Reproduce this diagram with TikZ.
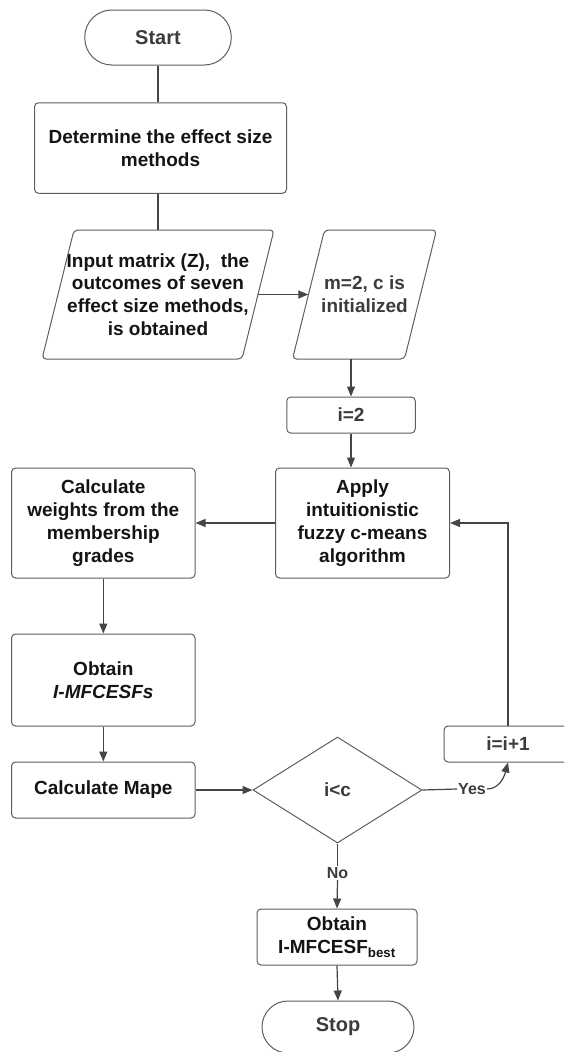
\documentclass[tikz,border=0pt]{standalone}
\usepackage{fontspec}
\setmainfont{Liberation Sans}
\usetikzlibrary{shapes.geometric,arrows.meta}
\definecolor{edge}{HTML}{5E5E5E}
\definecolor{conn}{HTML}{454545}
\definecolor{ink}{HTML}{141414}
\definecolor{soft}{HTML}{3C3C3C}
\begin{document}
\begin{tikzpicture}[x=1pt,y=-1pt,
  every node/.style={font=\fontsize{19}{22.8}\selectfont\bfseries, align=center, inner sep=0pt},
  box/.style={draw=edge, line width=1pt, rounded corners=4pt, text=ink},
  outline/.style={draw=edge, line width=1pt, rounded corners=4pt},
  line/.style={draw=conn, line width=1.2pt},
  arr/.style={line, -{Triangle[length=10pt,width=8pt]}},
  lbl/.style={text=soft, font=\fontsize{16}{19}\selectfont\bfseries, inner sep=1pt}
]
\useasboundingbox (0,0) rectangle (564,1052);
\clip (0,0) rectangle (564,1052);

% nodes
\node[box, rounded corners=27pt, minimum width=146.5pt, minimum height=55pt, text=soft,
      font=\fontsize{20}{24}\selectfont\bfseries] (start) at (158,37.5) {Start};
\node[box, minimum width=252pt, minimum height=90.5pt] (det) at (160.5,148) {Determine the effect size\\methods};

\node[minimum width=200pt, minimum height=129pt, text=ink] (p1) at (158,294.5)
  {Input matrix (Z),~~the\\outcomes of seven\\effect size methods,\\is obtained};
\draw[outline] (42,359) -- (74,230) -- (274,230) -- (242,359) -- cycle;

\node[minimum width=112pt, minimum height=129pt, text=soft] (p2) at (364.5,294.5) {m=2, c is\\initialized};
\draw[outline] (292.5,359) -- (324.5,230) -- (436.5,230) -- (404.5,359) -- cycle;

\node[box, minimum width=128.5pt, minimum height=36pt, text=soft] (i2) at (351,415) {i=2};
\node[box, minimum width=174pt, minimum height=110pt] (apply) at (362.5,523)
  {Apply\\intuitionistic\\fuzzy c-means\\algorithm};
\node[box, minimum width=183.5pt, minimum height=110pt] (wts) at (103.3,523)
  {Calculate\\weights from the\\membership\\grades};
\node[box, minimum width=183.5pt, minimum height=92pt] (obt) at (103.3,680)
  {Obtain\\\textit{I-MFCESFs}};
\node[box, minimum width=183.5pt, minimum height=56pt] (mape) at (103.3,790) {Calculate Mape};
\node[diamond, draw=edge, line width=1pt, minimum width=169pt, minimum height=106pt, text=soft] (dia) at (337.5,790) {i<c};
\node[box, minimum width=128pt, minimum height=36pt, text=soft] (inc) at (508,744) {i=i+1};
\node[box, minimum width=160pt, minimum height=56pt] (best) at (337,937)
  {Obtain\\I-MFCESF\textsubscript{best}};
\node[box, rounded corners=26pt, minimum width=152pt, minimum height=52pt, text=soft,
      font=\fontsize{20}{24}\selectfont\bfseries] (stop) at (338,1027) {Stop};

\node[lbl] (yes) at (472,789) {Yes};
\node[lbl] (no) at (337.5,873) {No};

% connectors
\draw[line] (start.south) -- (start.south |- det.north);
\draw[line] (p1.north |- det.south) -- (p1.north);
\draw[arr] (p1.east) -- (p2.west);
\draw[arr] (i2.north |- p2.south) -- (i2.north);
\draw[arr] (i2.south) -- (i2.south |- apply.north);
\draw[arr] (apply.west) -- (wts.east);
\draw[arr] (wts.south) -- (obt.north);
\draw[arr] (obt.south) -- (mape.north);
\draw[arr] (mape.east) -- (dia.west);
\draw[line] (dia.east) -- (yes.west);
\draw[arr] (yes.east) to[out=0, in=-105] (inc.south);
\draw[arr] (inc.north) |- (apply.east);
\draw[line] (dia.south) -- (no.north);
\draw[arr] (no.south) -- (best.north);
\draw[arr] (best.south) -- (stop.north);
\end{tikzpicture}
\end{document}
